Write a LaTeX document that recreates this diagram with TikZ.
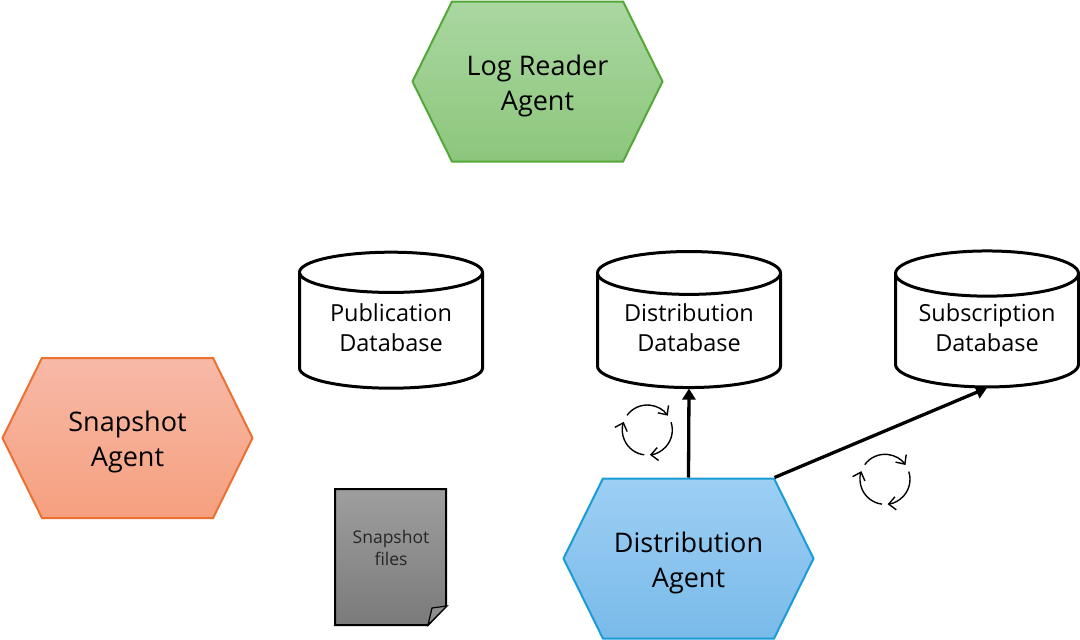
\documentclass[tikz,border=0pt]{standalone}
\usepackage{fontspec}
\setmainfont{Open Sans}
\usetikzlibrary{arrows.meta,calc,shapes.geometric,shapes.symbols}

\definecolor{greenline}{HTML}{54A838}
\definecolor{greentop}{HTML}{AAD7A1}
\definecolor{greenbot}{HTML}{8CC67C}
\definecolor{orangeline}{HTML}{EB7132}
\definecolor{orangetop}{HTML}{F7B9A7}
\definecolor{orangebot}{HTML}{F6A07F}
\definecolor{blueline}{HTML}{1A9BD7}
\definecolor{bluetop}{HTML}{9DCFF4}
\definecolor{bluebot}{HTML}{79BAE9}
\definecolor{foldgrey}{HTML}{8E8E8E}

\begin{document}
\begin{tikzpicture}[x=1pt, y=-1pt]
\tikzset{agentnode/.style={signal, signal to=west and east, signal pointer angle=127.5,
  minimum width=250pt, minimum height=160pt, inner sep=0, line width=2pt, align=center,
  text height=64pt, font=\fontsize{27}{35}\selectfont},
dbnode/.style={cylinder, shape border rotate=90, aspect=0.33, draw, line width=3pt, minimum width=183pt,
  minimum height=136pt, inner sep=0, outer sep=1pt, align=center, text depth=6pt, font=\fontsize{23.5}{30}\selectfont},
flowline/.style={line width=3.3pt, -{Triangle[length=11pt,width=13pt]}},
refreshicon/.pic={
  \foreach \a/\b in {-144/-35, -18/84, 97/199}
    \draw[line width=1.4pt, -{Straight Barb[length=7pt,width=13pt]}] (\a:25) arc[start angle=\a, end angle=\b, radius=25];
}}
\useasboundingbox (0,0) rectangle (1080,640);

\node (logreader) [agentnode, draw=greenline, top color=greentop, bottom color=greenbot] at (537.5,81.5) {Log Reader\\Agent};
\node (snapshot) [agentnode, draw=orangeline, top color=orangetop, bottom color=orangebot] at (127.5,438) {Snapshot\\Agent};
\node (distagent) [agentnode, draw=blueline, top color=bluetop, bottom color=bluebot] at (688.5,558.5) {Distribution\\Agent};

\node (pubdb) [dbnode] at (391,331) {Publication\\Database};
\node (distdb) [dbnode] at (689,331) {Distribution\\Database};
\node (subdb) [dbnode] at (987,331) {Subscription\\Database};

%% Snapshot file
\draw[line width=2pt, top color=black!38, bottom color=black!52] (335,489) -- (446,489) -- (446,606) -- (428,625) -- (335,625) -- cycle;
\draw[line width=1.2pt, fill=foldgrey] (447,606) -- (432,608) -- (428,625) -- cycle;
\node (files) [font=\fontsize{17.5}{22}\selectfont, align=center, text=black!85] at (391,548) {Snapshot\\files};

%% Edges
\coordinate (distcorner) at ($(distagent.north)+(86,0)$);
\draw[flowline] (distagent.north) -- (distdb.south);
\draw[flowline] (distcorner) -- (subdb.south);

\pic at (647.3,430) {refreshicon};
\pic at (885,479.3) {refreshicon};
\end{tikzpicture}
\end{document}
